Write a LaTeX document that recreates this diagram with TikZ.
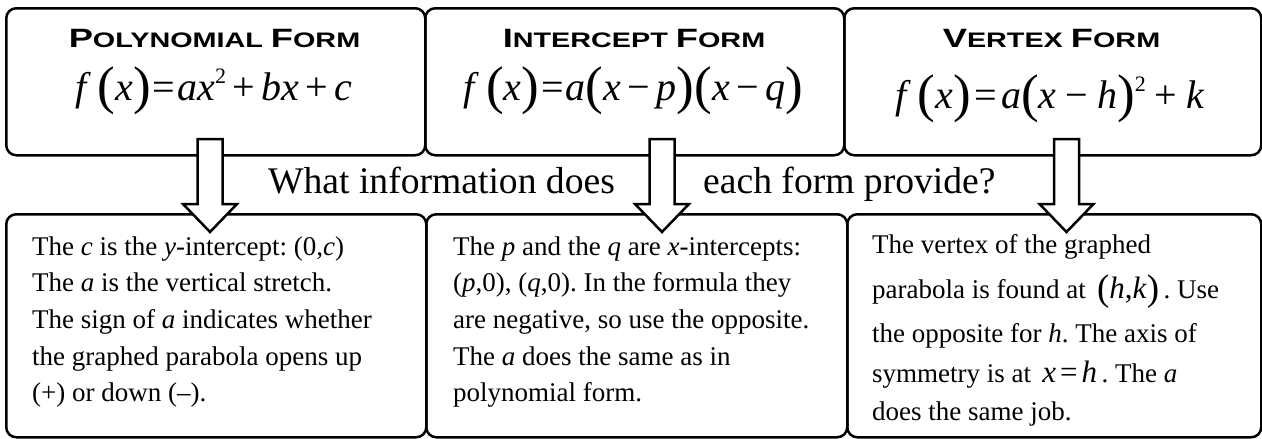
\documentclass[tikz,border=0pt]{standalone}
\usepackage{fontspec}
\setmainfont{Liberation Serif}[ItalicFont={Liberation Serif Italic}]
\newfontfamily\headfont[FakeStretch=1.37]{Liberation Sans}
\usetikzlibrary{calc}
\frenchspacing
\newcommand\fsz[1]{\fontsize{#1}{#1}\selectfont}
\newcommand\hsc[2]{{\fsz{26.5}#1}{\fsz{21}#2}}
\newcommand\BP[1]{\raisebox{-3.5pt}{\fsz{53}#1}}
\newcommand\SP[1]{\raisebox{-2pt}{\fsz{37}#1}}
\newcommand\mi[1]{\textit{#1}}
\newcommand\msup[1]{\raisebox{0.42em}{\fsz{22}#1}}
\newcommand\op[1]{\hspace{6.5pt}#1\hspace{6.5pt}}
\newcommand\wop[1]{\hspace{9pt}#1\hspace{9pt}}
\tikzset{
  box/.style={draw, line width=2.5pt, rounded corners=10pt, inner sep=0pt, anchor=north west},
  barrow/.style={draw, fill=white, line width=2.5pt, line join=miter},
  title/.style={anchor=base, inner sep=0pt, font=\headfont\bfseries\fsz{21}},
  formula/.style={anchor=base, inner sep=0pt, font=\fsz{40}},
  para/.style={anchor=base west, inner sep=0pt, font=\fontsize{27}{36.7}\selectfont},
  question/.style={anchor=base west, inner sep=0pt, font=\fsz{37.6}}
}
\begin{document}
\begin{tikzpicture}[x=1pt,y=-1pt]
\useasboundingbox (0,0) rectangle (1262,439);
% top boxes
\node[box, minimum width=419pt, minimum height=147pt] (t1) at (5,7) {};
\node[box, minimum width=419pt, minimum height=147pt] (t2) at (424,7) {};
\node[box, minimum width=417pt, minimum height=147pt] (t3) at (843,7) {};
% bottom boxes
\node[box, minimum width=420pt, minimum height=223pt] (b1) at (5,213) {};
\node[box, minimum width=421pt, minimum height=223pt] (b2) at (425,213) {};
\node[box, minimum width=414pt, minimum height=223pt] (b3) at (846,213) {};
% titles
\node[title] (h1) at (214.5,47) {\hsc{P}{OLYNOMIAL} \hsc{F}{ORM}};
\node[title] (h2) at (634,47) {\hsc{I}{NTERCEPT} \hsc{F}{ORM}};
\node[title] (h3) at (1051.5,47) {\hsc{V}{ERTEX} \hsc{F}{ORM}};
% formulas
\node[formula] (f1) at (214,100) {\mi{f}\,\BP{(}\mi{x}\BP{)}\hspace{2pt}=\hspace{2pt}\mi{a}\mi{x}\msup{2}\op{+}\mi{b}\mi{x}\op{+}\mi{c}};
\node[formula] (f2) at (633.5,100) {\mi{f}\,\BP{(}\mi{x}\BP{)}\hspace{2pt}=\hspace{2pt}\mi{a}\BP{(}\mi{x}\op{−}\mi{p}\BP{)}\BP{(}\mi{x}\op{−}\mi{q}\BP{)}};
\node[formula] (f3) at (1050,108) {\mi{f}\,\BP{(}\mi{x}\BP{)}\hspace{4pt}=\hspace{4pt}\mi{a}\BP{(}\mi{x}\wop{−}\mi{h}\BP{)}\msup{2}\wop{+}\mi{k}};
% question
\node[question] (q1) at (268,193) {What information does};
\node[question] (q2) at (703,193) {each form provide?};
% arrows
\coordinate (a1) at (210,139);
\coordinate (a2) at (662,139);
\coordinate (a3) at (1066.5,139);
\foreach \a in {a1,a2,a3}{
  \draw[barrow] (\a) ++(-12.5,0) -- ++(25,0) -- ++(0,65) -- ++(14.5,0) -- ++(-27,28) -- ++(-27,-28) -- ++(14.5,0) -- cycle;
}
% paragraphs
\node[para] (p1) at (32,255) {\begin{tabular}[t]{@{}l@{}}
The \mi{c} is the \mi{y}-intercept: (0,\mi{c})\\
The \mi{a} is the vertical stretch.\\
The sign of \mi{a} indicates whether\\
the graphed parabola opens up\\
(+) or down (–).
\end{tabular}};
\node[para] (p2) at (453,255) {\begin{tabular}[t]{@{}l@{}}
The \mi{p} and the \mi{q} are \mi{x}-intercepts:\\
(\mi{p},0), (\mi{q},0). In the formula they\\
are negative, so use the opposite.\\
The \mi{a} does the same as in\\
polynomial form.
\end{tabular}};
\node[para] (p3) at (872,253) {\begin{tabular}[t]{@{}l@{}}
The vertex of the graphed\\[8.3pt]
parabola is found at \,\SP{(}{\fsz{31}\mi{h},\mi{k}}\SP{)}\,. Use\\[7.3pt]
the opposite for \mi{h}. The axis of\\[3.3pt]
symmetry is at \,{\fsz{31}\mi{x}\hspace{4pt}=\hspace{4pt}\mi{h}}\,. The \mi{a}\\[1.3pt]
does the same job.
\end{tabular}};
\end{tikzpicture}
\end{document}
